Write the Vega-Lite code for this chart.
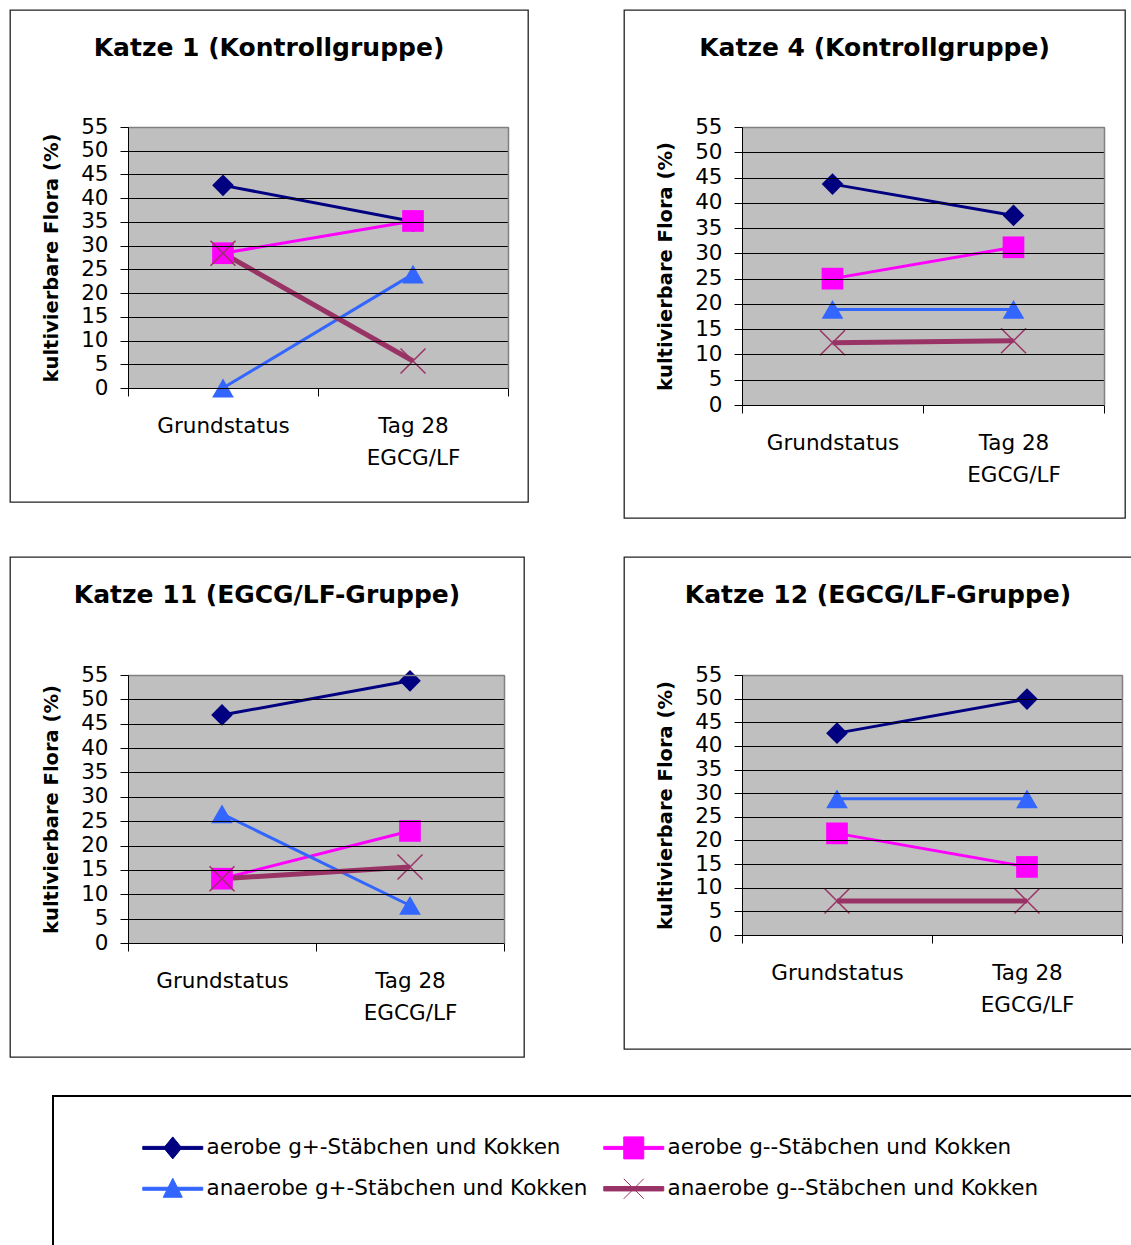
{
  "$schema": "https://vega.github.io/schema/vega-lite/v6.json",
  "padding": {"left": 9, "top": 9, "right": 0, "bottom": 0},
  "background": "#ffffff",
  "config": {
    "font": "DejaVu Sans",
    "view": {"stroke": "#222222", "strokeWidth": 1.3, "fill": "#ffffff"},
    "title": {"fontSize": 25, "fontWeight": "bold", "font": "DejaVu Sans", "anchor": "middle", "frame": "group", "offset": -51, "baseline": "alphabetic", "color": "#000000"},
    "axis": {"labelFont": "DejaVu Sans", "labelFontSize": 21.5, "labelColor": "#000000", "titleFont": "DejaVu Sans", "titleColor": "#000000", "domainColor": "#000000", "tickColor": "#000000"}
  },
  "vconcat": [
    {
      "vconcat": [
        {
          "hconcat": [
            {
              "width": 518, "height": 492,
              "title": "Katze 1 (Kontrollgruppe)",
              "data": {"values": [
                {"zeit": "Grundstatus", "serie": "aerobe g+-Stäbchen und Kokken", "wert": 42.7},
                {"zeit": "Tag 28", "serie": "aerobe g+-Stäbchen und Kokken", "wert": 35.1},
                {"zeit": "Grundstatus", "serie": "aerobe g--Stäbchen und Kokken", "wert": 28.4},
                {"zeit": "Tag 28", "serie": "aerobe g--Stäbchen und Kokken", "wert": 35.2},
                {"zeit": "Grundstatus", "serie": "anaerobe g+-Stäbchen und Kokken", "wert": 0},
                {"zeit": "Tag 28", "serie": "anaerobe g+-Stäbchen und Kokken", "wert": 24},
                {"zeit": "Grundstatus", "serie": "anaerobe g--Stäbchen und Kokken", "wert": 28.4},
                {"zeit": "Tag 28", "serie": "anaerobe g--Stäbchen und Kokken", "wert": 5.7}
              ]},
              "resolve": {"axis": {"x": "independent", "y": "independent"}},
              "layer": [
                {
                  "transform": [{"aggregate": [{"op": "count", "as": "n"}], "groupby": ["zeit"]}],
                  "mark": {"type": "rect", "fill": "#808080", "opacity": 0.5},
                  "encoding": {
                    "x": {"field": "zeit", "type": "nominal", "scale": {"type": "band", "domain": ["Grundstatus", "Tag 28"], "range": [118, 498], "paddingInner": 0, "paddingOuter": 0}, "axis": {"orient": "top", "offset": -117, "labels": false, "ticks": false, "grid": false, "title": null, "domainColor": "#808080", "domainWidth": 1.5, "zindex": 1}},
                    "y": {"datum": 0, "type": "quantitative", "scale": {"domain": [0, 55], "range": [378, 117], "nice": false, "zero": true}, "axis": {"orient": "right", "offset": -20, "labels": false, "ticks": false, "grid": false, "title": null, "domainColor": "#808080", "domainWidth": 1.5, "zindex": 1}},
                    "y2": {"datum": 55}
                  }
                },
                {
                  "transform": [{"filter": "datum.serie != 'anaerobe g--Stäbchen und Kokken'"}],
                  "mark": {"type": "line", "strokeWidth": 3},
                  "encoding": {
                    "x": {"field": "zeit", "type": "nominal", "axis": {"orient": "bottom", "offset": -114, "title": null, "tickBand": "extent", "tickSize": 8, "labelPadding": 19, "labelAngle": 0, "labelBaseline": "top", "labelLineHeight": 32, "labelExpr": "datum.value == 'Tag 28' ? ['Tag 28', 'EGCG/LF'] : datum.label", "grid": false, "zindex": 1}},
                    "y": {"field": "wert", "type": "quantitative", "axis": {"orient": "left", "offset": -118, "title": "kultivierbare Flora (%)", "values": [0, 5, 10, 15, 20, 25, 30, 35, 40, 45, 50, 55], "grid": true, "gridColor": "#000000", "gridWidth": 1, "gridOpacity": 1, "tickSize": 8, "labelPadding": 12, "titleFontSize": 19.5, "titleFontWeight": "bold", "titlePadding": 19, "zindex": 1}},
                    "color": {"field": "serie", "type": "nominal",
                      "scale": {"domain": ["aerobe g+-Stäbchen und Kokken", "aerobe g--Stäbchen und Kokken", "anaerobe g+-Stäbchen und Kokken", "anaerobe g--Stäbchen und Kokken"], "range": ["#000080", "#FF00FF", "#3366FF", "#993366"]},
                      "legend": {
                        "title": null, "orient": "none", "legendX": 152, "legendY": 1127, "columns": 2, "direction": "horizontal", "columnPadding": 13, "rowPadding": 15,
                        "labelFontSize": 21.5, "labelFont": "DejaVu Sans", "labelColor": "#000000", "labelOffset": 23, "symbolSize": 400, "padding": 0, "labelLimit": 0,
                        "encoding": {"symbols": {
                          "shape": {"value": {"signal": "datum.value == 'aerobe g+-Stäbchen und Kokken' ? 'M-3,-0.15L3,-0.15L3,0.15L-3,0.15Z M0,-1.1L0.9,0L0,1.1L-0.9,0Z' : datum.value == 'aerobe g--Stäbchen und Kokken' ? 'M-3,-0.15L3,-0.15L3,0.15L-3,0.15Z M-1,-1.1L1,-1.1L1,1.1L-1,1.1Z' : datum.value == 'anaerobe g+-Stäbchen und Kokken' ? 'M-3,-0.15L3,-0.15L3,0.15L-3,0.15Z M0,-1.05L0.95,0.85L-0.95,0.85Z' : 'M-3,-0.22L3,-0.22L3,0.22L-3,0.22Z M-1,-1L1,1M-1,1L1,-1'"}},
                          "fill": {"value": {"signal": "scale('color', datum.value)"}},
                          "stroke": {"value": {"signal": "scale('color', datum.value)"}},
                          "strokeWidth": {"value": 1},
                          "opacity": {"value": 1},
                          "size": {"value": 400}
                        }}
                      }
                    }
                  }
                },
                {
                  "transform": [{"filter": "datum.serie == 'anaerobe g--Stäbchen und Kokken'"}],
                  "mark": {"type": "line", "strokeWidth": 5},
                  "encoding": {
                    "x": {"field": "zeit", "type": "nominal", "axis": null},
                    "y": {"field": "wert", "type": "quantitative", "axis": null},
                    "color": {"field": "serie", "type": "nominal"}
                  }
                },
                {
                  "transform": [{"filter": "datum.serie != 'anaerobe g--Stäbchen und Kokken'"}],
                  "mark": {"type": "point", "filled": true, "opacity": 1, "size": 470},
                  "encoding": {
                    "x": {"field": "zeit", "type": "nominal", "axis": null},
                    "y": {"field": "wert", "type": "quantitative", "axis": null},
                    "color": {"field": "serie", "type": "nominal"},
                    "shape": {"field": "serie", "type": "nominal", "scale": {"domain": ["anaerobe g--Stäbchen und Kokken", "anaerobe g+-Stäbchen und Kokken", "aerobe g--Stäbchen und Kokken", "aerobe g+-Stäbchen und Kokken"], "range": ["M-1,-1L1,1M-1,1L1,-1", "triangle-up", "square", "diamond"]}, "legend": null}
                  }
                },
                {
                  "transform": [{"filter": "datum.serie == 'anaerobe g--Stäbchen und Kokken'"}],
                  "mark": {"type": "point", "filled": false, "opacity": 1, "size": 625, "strokeWidth": 1.5},
                  "encoding": {
                    "x": {"field": "zeit", "type": "nominal", "axis": null},
                    "y": {"field": "wert", "type": "quantitative", "axis": null},
                    "color": {"field": "serie", "type": "nominal"},
                    "shape": {"field": "serie", "type": "nominal", "legend": null}
                  }
                }
              ]
            },
            {
              "width": 501, "height": 508,
              "title": "Katze 4 (Kontrollgruppe)",
              "data": {"values": [
                {"zeit": "Grundstatus", "serie": "aerobe g+-Stäbchen und Kokken", "wert": 43.7},
                {"zeit": "Tag 28", "serie": "aerobe g+-Stäbchen und Kokken", "wert": 37.5},
                {"zeit": "Grundstatus", "serie": "aerobe g--Stäbchen und Kokken", "wert": 25},
                {"zeit": "Tag 28", "serie": "aerobe g--Stäbchen und Kokken", "wert": 31.2},
                {"zeit": "Grundstatus", "serie": "anaerobe g+-Stäbchen und Kokken", "wert": 18.9},
                {"zeit": "Tag 28", "serie": "anaerobe g+-Stäbchen und Kokken", "wert": 18.9},
                {"zeit": "Grundstatus", "serie": "anaerobe g--Stäbchen und Kokken", "wert": 12.3},
                {"zeit": "Tag 28", "serie": "anaerobe g--Stäbchen und Kokken", "wert": 12.7}
              ]},
              "resolve": {"axis": {"x": "independent", "y": "independent"}},
              "layer": [
                {
                  "transform": [{"aggregate": [{"op": "count", "as": "n"}], "groupby": ["zeit"]}],
                  "mark": {"type": "rect", "fill": "#808080", "opacity": 0.5},
                  "encoding": {
                    "x": {"field": "zeit", "type": "nominal", "scale": {"type": "band", "domain": ["Grundstatus", "Tag 28"], "range": [118, 480], "paddingInner": 0, "paddingOuter": 0}, "axis": {"orient": "top", "offset": -117, "labels": false, "ticks": false, "grid": false, "title": null, "domainColor": "#808080", "domainWidth": 1.5, "zindex": 1}},
                    "y": {"datum": 0, "type": "quantitative", "scale": {"domain": [0, 55], "range": [395, 117], "nice": false, "zero": true}, "axis": {"orient": "right", "offset": -21, "labels": false, "ticks": false, "grid": false, "title": null, "domainColor": "#808080", "domainWidth": 1.5, "zindex": 1}},
                    "y2": {"datum": 55}
                  }
                },
                {
                  "transform": [{"filter": "datum.serie != 'anaerobe g--Stäbchen und Kokken'"}],
                  "mark": {"type": "line", "strokeWidth": 3},
                  "encoding": {
                    "x": {"field": "zeit", "type": "nominal", "axis": {"orient": "bottom", "offset": -113, "title": null, "tickBand": "extent", "tickSize": 8, "labelPadding": 19, "labelAngle": 0, "labelBaseline": "top", "labelLineHeight": 32, "labelExpr": "datum.value == 'Tag 28' ? ['Tag 28', 'EGCG/LF'] : datum.label", "grid": false, "zindex": 1}},
                    "y": {"field": "wert", "type": "quantitative", "axis": {"orient": "left", "offset": -118, "title": "kultivierbare Flora (%)", "values": [0, 5, 10, 15, 20, 25, 30, 35, 40, 45, 50, 55], "grid": true, "gridColor": "#000000", "gridWidth": 1, "gridOpacity": 1, "tickSize": 8, "labelPadding": 12, "titleFontSize": 19.5, "titleFontWeight": "bold", "titlePadding": 19, "zindex": 1}},
                    "color": {"field": "serie", "type": "nominal"}
                  }
                },
                {
                  "transform": [{"filter": "datum.serie == 'anaerobe g--Stäbchen und Kokken'"}],
                  "mark": {"type": "line", "strokeWidth": 5},
                  "encoding": {
                    "x": {"field": "zeit", "type": "nominal", "axis": null},
                    "y": {"field": "wert", "type": "quantitative", "axis": null},
                    "color": {"field": "serie", "type": "nominal"}
                  }
                },
                {
                  "transform": [{"filter": "datum.serie != 'anaerobe g--Stäbchen und Kokken'"}],
                  "mark": {"type": "point", "filled": true, "opacity": 1, "size": 470},
                  "encoding": {
                    "x": {"field": "zeit", "type": "nominal", "axis": null},
                    "y": {"field": "wert", "type": "quantitative", "axis": null},
                    "color": {"field": "serie", "type": "nominal"},
                    "shape": {"field": "serie", "type": "nominal", "legend": null}
                  }
                },
                {
                  "transform": [{"filter": "datum.serie == 'anaerobe g--Stäbchen und Kokken'"}],
                  "mark": {"type": "point", "filled": false, "opacity": 1, "size": 625, "strokeWidth": 1.5},
                  "encoding": {
                    "x": {"field": "zeit", "type": "nominal", "axis": null},
                    "y": {"field": "wert", "type": "quantitative", "axis": null},
                    "color": {"field": "serie", "type": "nominal"},
                    "shape": {"field": "serie", "type": "nominal", "legend": null}
                  }
                }
              ]
            }
          ],
          "spacing": 94
        },
        {
          "hconcat": [
            {
              "width": 514, "height": 500,
              "title": "Katze 11 (EGCG/LF-Gruppe)",
              "data": {"values": [
                {"zeit": "Grundstatus", "serie": "aerobe g+-Stäbchen und Kokken", "wert": 46.8},
                {"zeit": "Tag 28", "serie": "aerobe g+-Stäbchen und Kokken", "wert": 53.8},
                {"zeit": "Grundstatus", "serie": "aerobe g--Stäbchen und Kokken", "wert": 13.2},
                {"zeit": "Tag 28", "serie": "aerobe g--Stäbchen und Kokken", "wert": 23},
                {"zeit": "Grundstatus", "serie": "anaerobe g+-Stäbchen und Kokken", "wert": 26.5},
                {"zeit": "Tag 28", "serie": "anaerobe g+-Stäbchen und Kokken", "wert": 7.7},
                {"zeit": "Grundstatus", "serie": "anaerobe g--Stäbchen und Kokken", "wert": 13.2},
                {"zeit": "Tag 28", "serie": "anaerobe g--Stäbchen und Kokken", "wert": 15.6}
              ]},
              "resolve": {"axis": {"x": "independent", "y": "independent"}},
              "layer": [
                {
                  "transform": [{"aggregate": [{"op": "count", "as": "n"}], "groupby": ["zeit"]}],
                  "mark": {"type": "rect", "fill": "#808080", "opacity": 0.5},
                  "encoding": {
                    "x": {"field": "zeit", "type": "nominal", "scale": {"type": "band", "domain": ["Grundstatus", "Tag 28"], "range": [118, 494], "paddingInner": 0, "paddingOuter": 0}, "axis": {"orient": "top", "offset": -118, "labels": false, "ticks": false, "grid": false, "title": null, "domainColor": "#808080", "domainWidth": 1.5, "zindex": 1}},
                    "y": {"datum": 0, "type": "quantitative", "scale": {"domain": [0, 55], "range": [386, 118], "nice": false, "zero": true}, "axis": {"orient": "right", "offset": -20, "labels": false, "ticks": false, "grid": false, "title": null, "domainColor": "#808080", "domainWidth": 1.5, "zindex": 1}},
                    "y2": {"datum": 55}
                  }
                },
                {
                  "transform": [{"filter": "datum.serie != 'anaerobe g--Stäbchen und Kokken'"}],
                  "mark": {"type": "line", "strokeWidth": 3},
                  "encoding": {
                    "x": {"field": "zeit", "type": "nominal", "axis": {"orient": "bottom", "offset": -114, "title": null, "tickBand": "extent", "tickSize": 8, "labelPadding": 19, "labelAngle": 0, "labelBaseline": "top", "labelLineHeight": 32, "labelExpr": "datum.value == 'Tag 28' ? ['Tag 28', 'EGCG/LF'] : datum.label", "grid": false, "zindex": 1}},
                    "y": {"field": "wert", "type": "quantitative", "axis": {"orient": "left", "offset": -118, "title": "kultivierbare Flora (%)", "values": [0, 5, 10, 15, 20, 25, 30, 35, 40, 45, 50, 55], "grid": true, "gridColor": "#000000", "gridWidth": 1, "gridOpacity": 1, "tickSize": 8, "labelPadding": 12, "titleFontSize": 19.5, "titleFontWeight": "bold", "titlePadding": 19, "zindex": 1}},
                    "color": {"field": "serie", "type": "nominal"}
                  }
                },
                {
                  "transform": [{"filter": "datum.serie == 'anaerobe g--Stäbchen und Kokken'"}],
                  "mark": {"type": "line", "strokeWidth": 5},
                  "encoding": {
                    "x": {"field": "zeit", "type": "nominal", "axis": null},
                    "y": {"field": "wert", "type": "quantitative", "axis": null},
                    "color": {"field": "serie", "type": "nominal"}
                  }
                },
                {
                  "transform": [{"filter": "datum.serie != 'anaerobe g--Stäbchen und Kokken'"}],
                  "mark": {"type": "point", "filled": true, "opacity": 1, "size": 470},
                  "encoding": {
                    "x": {"field": "zeit", "type": "nominal", "axis": null},
                    "y": {"field": "wert", "type": "quantitative", "axis": null},
                    "color": {"field": "serie", "type": "nominal"},
                    "shape": {"field": "serie", "type": "nominal", "legend": null}
                  }
                },
                {
                  "transform": [{"filter": "datum.serie == 'anaerobe g--Stäbchen und Kokken'"}],
                  "mark": {"type": "point", "filled": false, "opacity": 1, "size": 625, "strokeWidth": 1.5},
                  "encoding": {
                    "x": {"field": "zeit", "type": "nominal", "axis": null},
                    "y": {"field": "wert", "type": "quantitative", "axis": null},
                    "color": {"field": "serie", "type": "nominal"},
                    "shape": {"field": "serie", "type": "nominal", "legend": null}
                  }
                }
              ]
            },
            {
              "width": 508, "height": 492,
              "title": "Katze 12 (EGCG/LF-Gruppe)",
              "data": {"values": [
                {"zeit": "Grundstatus", "serie": "aerobe g+-Stäbchen und Kokken", "wert": 42.7},
                {"zeit": "Tag 28", "serie": "aerobe g+-Stäbchen und Kokken", "wert": 49.9},
                {"zeit": "Grundstatus", "serie": "aerobe g--Stäbchen und Kokken", "wert": 21.5},
                {"zeit": "Tag 28", "serie": "aerobe g--Stäbchen und Kokken", "wert": 14.4},
                {"zeit": "Grundstatus", "serie": "anaerobe g+-Stäbchen und Kokken", "wert": 28.8},
                {"zeit": "Tag 28", "serie": "anaerobe g+-Stäbchen und Kokken", "wert": 28.8},
                {"zeit": "Grundstatus", "serie": "anaerobe g--Stäbchen und Kokken", "wert": 7.2},
                {"zeit": "Tag 28", "serie": "anaerobe g--Stäbchen und Kokken", "wert": 7.2}
              ]},
              "resolve": {"axis": {"x": "independent", "y": "independent"}},
              "layer": [
                {
                  "transform": [{"aggregate": [{"op": "count", "as": "n"}], "groupby": ["zeit"]}],
                  "mark": {"type": "rect", "fill": "#808080", "opacity": 0.5},
                  "encoding": {
                    "x": {"field": "zeit", "type": "nominal", "scale": {"type": "band", "domain": ["Grundstatus", "Tag 28"], "range": [118, 498], "paddingInner": 0, "paddingOuter": 0}, "axis": {"orient": "top", "offset": -118, "labels": false, "ticks": false, "grid": false, "title": null, "domainColor": "#808080", "domainWidth": 1.5, "zindex": 1}},
                    "y": {"datum": 0, "type": "quantitative", "scale": {"domain": [0, 55], "range": [378, 118], "nice": false, "zero": true}, "axis": {"orient": "right", "offset": -10, "labels": false, "ticks": false, "grid": false, "title": null, "domainColor": "#808080", "domainWidth": 1.5, "zindex": 1}},
                    "y2": {"datum": 55}
                  }
                },
                {
                  "transform": [{"filter": "datum.serie != 'anaerobe g--Stäbchen und Kokken'"}],
                  "mark": {"type": "line", "strokeWidth": 3},
                  "encoding": {
                    "x": {"field": "zeit", "type": "nominal", "axis": {"orient": "bottom", "offset": -114, "title": null, "tickBand": "extent", "tickSize": 8, "labelPadding": 19, "labelAngle": 0, "labelBaseline": "top", "labelLineHeight": 32, "labelExpr": "datum.value == 'Tag 28' ? ['Tag 28', 'EGCG/LF'] : datum.label", "grid": false, "zindex": 1}},
                    "y": {"field": "wert", "type": "quantitative", "axis": {"orient": "left", "offset": -118, "title": "kultivierbare Flora (%)", "values": [0, 5, 10, 15, 20, 25, 30, 35, 40, 45, 50, 55], "grid": true, "gridColor": "#000000", "gridWidth": 1, "gridOpacity": 1, "tickSize": 8, "labelPadding": 12, "titleFontSize": 19.5, "titleFontWeight": "bold", "titlePadding": 19, "zindex": 1}},
                    "color": {"field": "serie", "type": "nominal"}
                  }
                },
                {
                  "transform": [{"filter": "datum.serie == 'anaerobe g--Stäbchen und Kokken'"}],
                  "mark": {"type": "line", "strokeWidth": 5},
                  "encoding": {
                    "x": {"field": "zeit", "type": "nominal", "axis": null},
                    "y": {"field": "wert", "type": "quantitative", "axis": null},
                    "color": {"field": "serie", "type": "nominal"}
                  }
                },
                {
                  "transform": [{"filter": "datum.serie != 'anaerobe g--Stäbchen und Kokken'"}],
                  "mark": {"type": "point", "filled": true, "opacity": 1, "size": 470},
                  "encoding": {
                    "x": {"field": "zeit", "type": "nominal", "axis": null},
                    "y": {"field": "wert", "type": "quantitative", "axis": null},
                    "color": {"field": "serie", "type": "nominal"},
                    "shape": {"field": "serie", "type": "nominal", "legend": null}
                  }
                },
                {
                  "transform": [{"filter": "datum.serie == 'anaerobe g--Stäbchen und Kokken'"}],
                  "mark": {"type": "point", "filled": false, "opacity": 1, "size": 625, "strokeWidth": 1.5},
                  "encoding": {
                    "x": {"field": "zeit", "type": "nominal", "axis": null},
                    "y": {"field": "wert", "type": "quantitative", "axis": null},
                    "color": {"field": "serie", "type": "nominal"},
                    "shape": {"field": "serie", "type": "nominal", "legend": null}
                  }
                }
              ]
            }
          ],
          "spacing": 98
        }
      ],
      "spacing": 37
    },
    {
      "hconcat": [
        {"width": 1, "height": 1, "data": {"values": [{"a": 1}]}, "mark": {"type": "point", "opacity": 0, "size": 0}, "view": {"stroke": null, "fill": null}},
        {"width": 1090, "height": 170, "data": {"values": [{"a": 1}]}, "mark": {"type": "point", "opacity": 0, "size": 0}, "view": {"stroke": "#000000", "strokeWidth": 2}}
      ],
      "spacing": 41
    }
  ],
  "spacing": 37
}
